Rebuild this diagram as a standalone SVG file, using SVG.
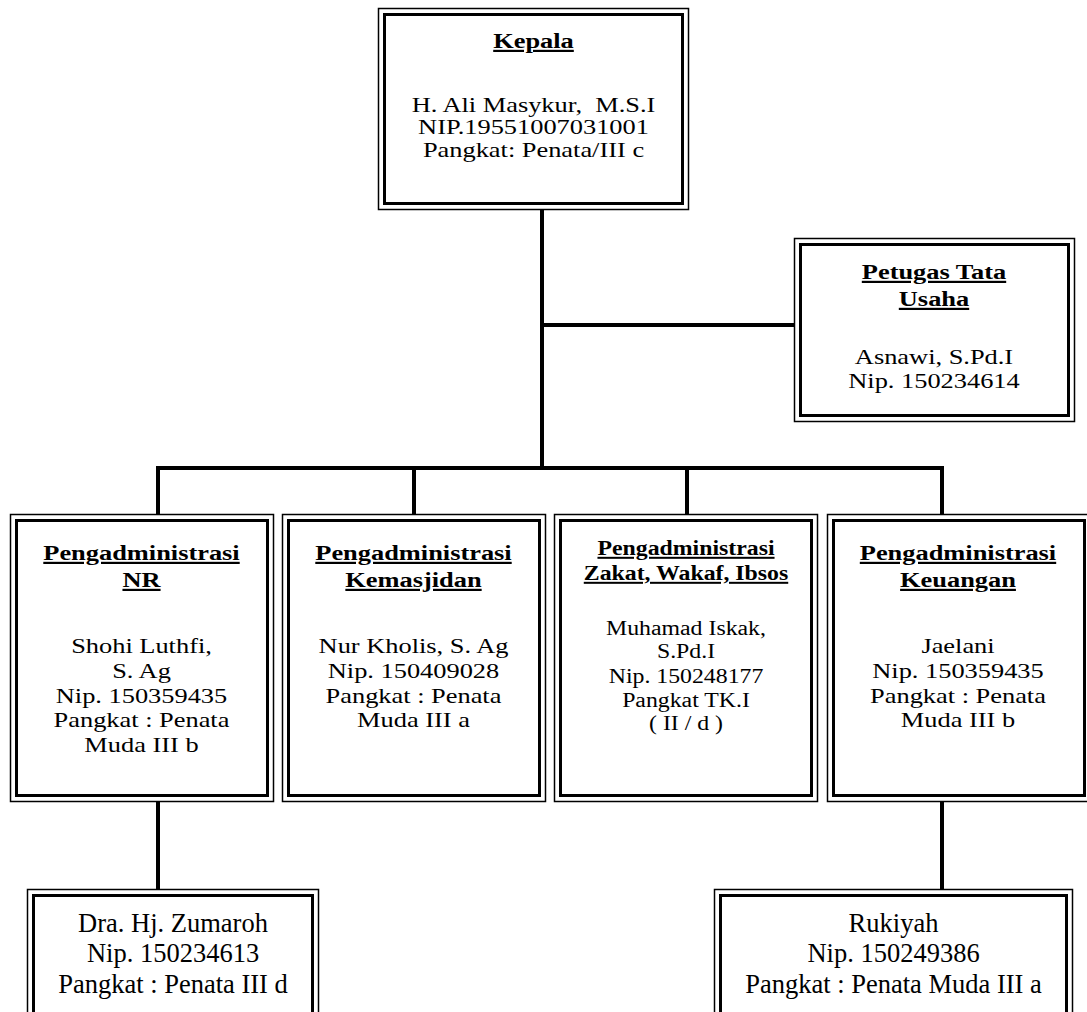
<svg xmlns="http://www.w3.org/2000/svg" width="1087" height="1012" viewBox="0 0 1087 1012">
<style>
.o{fill:none;stroke:#000;stroke-width:1.5}
.i{fill:none;stroke:#000;stroke-width:3}
text{font-family:"Liberation Serif","Times New Roman",serif;font-size:22px;fill:#000;text-anchor:middle;white-space:pre}
.t{font-weight:bold;text-decoration:underline}
.z{font-size:20px}
.r{font-size:26.5px}
.c{fill:none;stroke:#000;stroke-width:4}
</style>
<rect width="1087" height="1012" fill="#fff"/>
<g id="connectors">
<path class="c" d="M542 210V468M542 325H794M156 468H944M158 468V514M414 468V514M687 468V514M942 468V514M158 801V889M942 801V889"/>
</g>
<g id="kepala">
<rect class="o" x="378.5" y="8.5" width="310" height="201"/>
<rect class="i" x="384.5" y="14.5" width="298" height="189"/>
<g transform="translate(533.5 0) scale(1.2 1)">
<text class="t" x="0" y="48">Kepala</text>
<text x="0" y="112">H. Ali Masykur,  M.S.I</text>
<text x="0" y="134.5">NIP.19551007031001</text>
<text x="0" y="157">Pangkat: Penata/III c</text>
</g>
</g>
<g id="petugas">
<rect class="o" x="794.5" y="238.5" width="280" height="183"/>
<rect class="i" x="800.5" y="244.5" width="268" height="171"/>
<g transform="translate(934 0) scale(1.2 1)">
<text class="t" x="0" y="279">Petugas Tata</text>
<text class="t" x="0" y="306">Usaha</text>
<text x="0" y="364">Asnawi, S.Pd.I</text>
<text x="0" y="388">Nip. 150234614</text>
</g>
</g>
<g id="nr">
<rect class="o" x="10.5" y="514.5" width="263" height="287"/>
<rect class="i" x="16.5" y="520.5" width="251" height="275"/>
<g transform="translate(141.5 0) scale(1.2 1)">
<text class="t" x="0" y="560">Pengadministrasi</text>
<text class="t" x="0" y="587">NR</text>
<text x="0" y="653">Shohi Luthfi,</text>
<text x="0" y="678">S. Ag</text>
<text x="0" y="703">Nip. 150359435</text>
<text x="0" y="727">Pangkat : Penata</text>
<text x="0" y="752">Muda III b</text>
</g>
</g>
<g id="kemasjidan">
<rect class="o" x="282.5" y="514.5" width="263" height="287"/>
<rect class="i" x="288.5" y="520.5" width="251" height="275"/>
<g transform="translate(413.5 0) scale(1.2 1)">
<text class="t" x="0" y="560">Pengadministrasi</text>
<text class="t" x="0" y="587">Kemasjidan</text>
<text x="0" y="653">Nur Kholis, S. Ag</text>
<text x="0" y="678">Nip. 150409028</text>
<text x="0" y="703">Pangkat : Penata</text>
<text x="0" y="727">Muda III a</text>
</g>
</g>
<g id="zakat">
<rect class="o" x="554.5" y="514.5" width="263" height="287"/>
<rect class="i" x="560.5" y="520.5" width="251" height="275"/>
<g transform="translate(686 0) scale(1.19 1)">
<text class="t z" x="0" y="555">Pengadministrasi</text>
<text class="t z" x="0" y="580">Zakat, Wakaf, Ibsos</text>
<text class="z" x="0" y="635">Muhamad Iskak,</text>
<text class="z" x="0" y="658">S.Pd.I</text>
<text class="z" x="0" y="683">Nip. 150248177</text>
<text class="z" x="0" y="707">Pangkat TK.I</text>
<text class="z" x="0" y="730">( II / d )</text>
</g>
</g>
<g id="keuangan">
<rect class="o" x="827.5" y="514.5" width="263" height="287"/>
<rect class="i" x="833.5" y="520.5" width="251" height="275"/>
<g transform="translate(958 0) scale(1.2 1)">
<text class="t" x="0" y="560">Pengadministrasi</text>
<text class="t" x="0" y="587">Keuangan</text>
<text x="0" y="653">Jaelani</text>
<text x="0" y="678">Nip. 150359435</text>
<text x="0" y="703">Pangkat : Penata</text>
<text x="0" y="727">Muda III b</text>
</g>
</g>
<g id="zumaroh">
<rect class="o" x="27.5" y="889.5" width="291" height="140"/>
<rect class="i" x="33.5" y="895.5" width="279" height="128"/>
<text class="r" x="173" y="932">Dra. Hj. Zumaroh</text>
<text class="r" x="173" y="962">Nip. 150234613</text>
<text class="r" x="173" y="993">Pangkat : Penata III d</text>
</g>
<g id="rukiyah">
<rect class="o" x="714.5" y="889.5" width="358" height="140"/>
<rect class="i" x="720.5" y="895.5" width="346" height="128"/>
<text class="r" x="893.5" y="932">Rukiyah</text>
<text class="r" x="893.5" y="962">Nip. 150249386</text>
<text class="r" x="893.5" y="993">Pangkat : Penata Muda III a</text>
</g>
</svg>
